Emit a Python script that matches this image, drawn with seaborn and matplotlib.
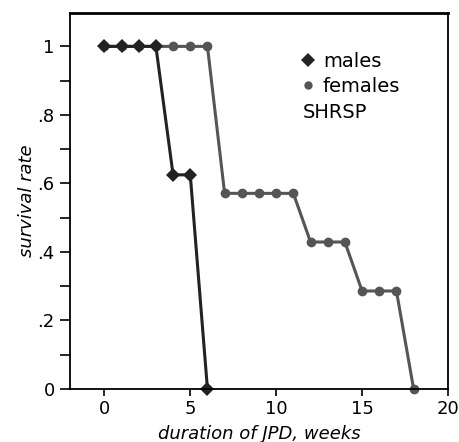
import matplotlib
matplotlib.use('Agg')
import matplotlib.pyplot as plt
from matplotlib.lines import Line2D
from matplotlib.ticker import FixedLocator
import seaborn as sns
import pandas as pd

# data
male_weeks = [0, 1, 2, 3, 4, 5, 6]
male_survival = [1, 1, 1, 1, 0.625, 0.625, 0]
female_weeks = [0, 1, 2, 3, 4, 5, 6, 7, 8, 9, 10, 11, 12, 13, 14, 15, 16, 17, 18]
female_survival = [1, 1, 1, 1, 1, 1, 1,
                   0.571, 0.571, 0.571, 0.571, 0.571,
                   0.429, 0.429, 0.429,
                   0.286, 0.286, 0.286, 0]
y_ticks = [0, 0.2, 0.4, 0.6, 0.8, 1]
y_tick_labels = ['0', '.2', '.4', '.6', '.8', '1']
y_minor = [0.1, 0.3, 0.5, 0.7, 0.9]
x_ticks = [0, 5, 10, 15, 20]

male_color = '#222222'
female_color = '#555555'

sns.set_style('ticks')
plt.rcParams['font.family'] = ['DejaVu Sans']
plt.rcParams['text.color'] = 'black'
plt.rcParams['axes.labelcolor'] = 'black'

males = pd.DataFrame({'week': male_weeks, 'survival': male_survival})
females = pd.DataFrame({'week': female_weeks, 'survival': female_survival})

fig = plt.figure(figsize=(4.59, 4.42), dpi=100)
ax = fig.add_axes([0.1525, 0.12, 0.8235, 0.851])

sns.lineplot(data=females, x='week', y='survival', color=female_color, marker='o',
             markersize=7, markeredgewidth=0, linewidth=2.2, ax=ax, clip_on=False)
sns.lineplot(data=males, x='week', y='survival', color=male_color, marker='D',
             markersize=7.5, markeredgewidth=0, linewidth=2.2, ax=ax, clip_on=False)

ax.set_xlim(-2, 20)
ax.set_ylim(0, 1.098)
ax.set_xticks(x_ticks)
ax.set_yticks(y_ticks)
ax.set_yticklabels(y_tick_labels)
ax.yaxis.set_minor_locator(FixedLocator(y_minor))
ax.tick_params(axis='y', which='both', direction='out', length=7, width=1.2,
               labelsize=13, colors='black', pad=4)
ax.tick_params(axis='x', which='both', direction='out', length=5, width=1.2,
               labelsize=13, colors='black', pad=3)
for s in ax.spines.values():
    s.set_visible(True)
    s.set_linewidth(1.3)
    s.set_color('black')
ax.spines['top'].set_linewidth(2)

ax.set_xlabel('duration of JPD, weeks', fontsize=13, style='italic', labelpad=5)
ax.set_ylabel('survival rate', fontsize=13, style='italic', labelpad=1)

handles = [Line2D([], [], linestyle='none', marker='D', markersize=7,
                  color=male_color, markeredgewidth=0, label='males'),
           Line2D([], [], linestyle='none', marker='o', markersize=6,
                  color=female_color, markeredgewidth=0, label='females')]
ax.legend(handles=handles, loc='upper left', bbox_to_anchor=(0.615, 0.897),
          frameon=False, fontsize=14, handlelength=0.6, handletextpad=0.45,
          labelspacing=0.33, borderpad=0, borderaxespad=0)
ax.text(0.616, 0.734, 'SHRSP', transform=ax.transAxes, fontsize=14,
        ha='left', va='center')

fig.savefig('out.png', dpi=100)
